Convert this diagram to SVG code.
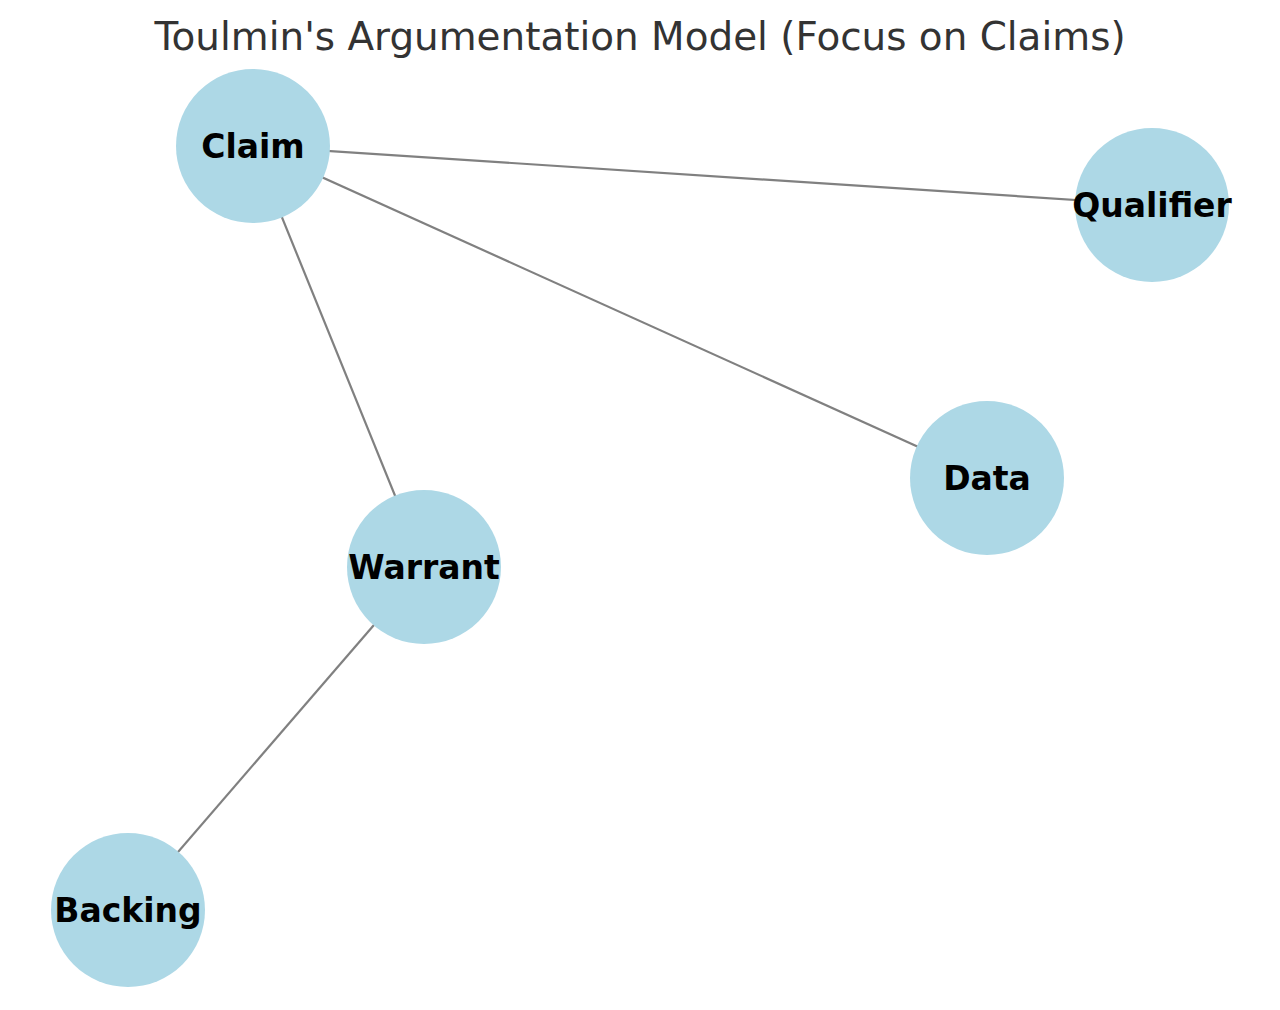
<svg xmlns="http://www.w3.org/2000/svg" width="1280" height="1010" viewBox="0 0 1280 1010">
<style>
.edge{stroke:#808080;stroke-width:2.2;fill:none}
.node{fill:#ADD8E6}
.lbl{font-family:"DejaVu Sans",sans-serif;font-weight:bold;font-size:33px;fill:#000;text-anchor:middle}
.title{font-family:"DejaVu Sans",sans-serif;font-size:38.9px;fill:#333;text-anchor:middle}
</style>
<rect width="1280" height="1010" fill="#fff"/>
<text class="title" x="640" y="50">Toulmin's Argumentation Model (Focus on Claims)</text>
<g id="edges">
<line class="edge" x1="253" y1="146" x2="1152" y2="205"/>
<line class="edge" x1="253" y1="146" x2="987" y2="478"/>
<line class="edge" x1="253" y1="146" x2="424" y2="567"/>
<line class="edge" x1="424" y1="567" x2="128" y2="910"/>
</g>
<g id="claim"><circle class="node" cx="253" cy="146" r="77"/><text class="lbl" x="253" y="158">Claim</text></g>
<g id="qualifier"><circle class="node" cx="1152" cy="205" r="77"/><text class="lbl" x="1152" y="217">Qualifier</text></g>
<g id="data"><circle class="node" cx="987" cy="478" r="77"/><text class="lbl" x="987" y="490">Data</text></g>
<g id="warrant"><circle class="node" cx="424" cy="567" r="77"/><text class="lbl" x="424" y="579">Warrant</text></g>
<g id="backing"><circle class="node" cx="128" cy="910" r="77"/><text class="lbl" x="128" y="922">Backing</text></g>
</svg>
